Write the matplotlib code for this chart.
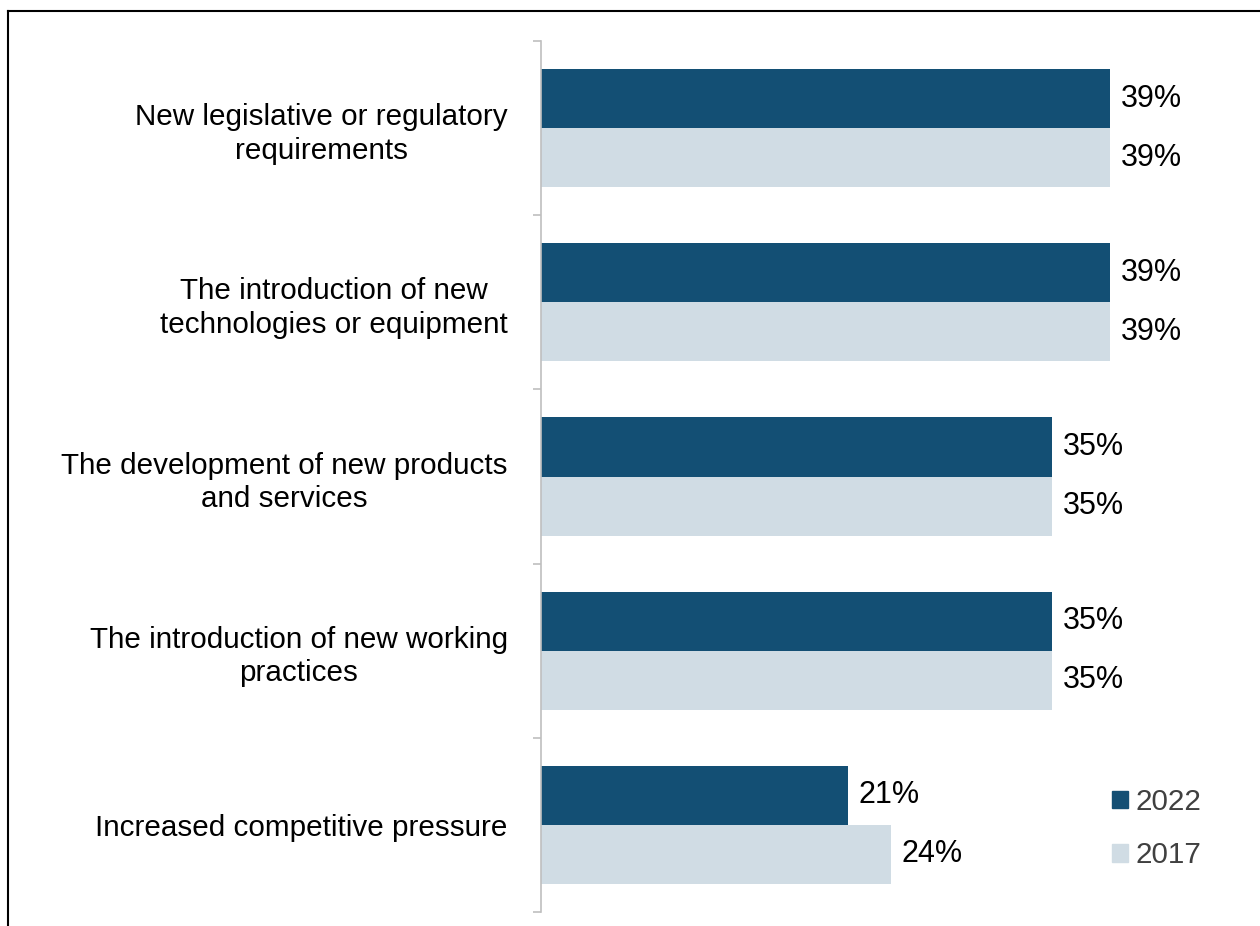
#!/usr/bin/env python3
import numpy as np
import matplotlib.pyplot as plt
from matplotlib.lines import Line2D
from matplotlib.patches import Patch
plt.switch_backend('agg')

categories = [
    'New legislative or regulatory\nrequirements',
    'The introduction of new\ntechnologies or equipment',
    'The development of new products\nand services',
    'The introduction of new working\npractices',
    'Increased competitive pressure',
]
vals_2022 = [39, 39, 35, 35, 21]
vals_2017 = [39, 39, 35, 35, 24]
years = ['2022', '2017']
colors = ['#134F74', '#D0DCE4']

plt.rcParams['font.family'] = ['Liberation Sans', 'DejaVu Sans']
FS = 21.3

fig = plt.figure(figsize=(12.6, 9.26), dpi=100)
ax = fig.add_axes([541 / 1260, 1 - 912 / 926, (1250 - 541) / 1260, (912 - 41) / 926])

y = np.arange(len(categories))
h = 59 / 174
b1 = ax.barh(y - h / 2, vals_2022, height=h, color=colors[0], label=years[0])
b2 = ax.barh(y + h / 2, vals_2017, height=h, color=colors[1], label=years[1])
for bars in (b1, b2):
    ax.bar_label(bars, labels=[f'{v}%' for v in bars.datavalues],
                 padding=7.5, fontsize=22, color='black')

ax.set_xlim(0, 709 / 14.6)
ax.set_ylim(len(categories) - 0.5, -0.5)

for s in ['top', 'right', 'bottom']:
    ax.spines[s].set_visible(False)
ax.spines['left'].set_color('#BFBFBF')
ax.spines['left'].set_linewidth(1.2)
ax.set_xticks([])

ax.set_yticks(y)
ax.set_yticklabels(categories, fontsize=FS, multialignment='center',
                   linespacing=1.25)
ax.tick_params(axis='y', which='major', length=0, pad=24)
ax.set_yticks(np.arange(len(categories) + 1) - 0.5, minor=True)
ax.tick_params(axis='y', which='minor', length=6, width=1.2, color='#BFBFBF')

handles = [Patch(color=colors[0], label=years[0]), Patch(color=colors[1], label=years[1])]
ax.legend(handles=handles, loc='center left', frameon=False, fontsize=FS,
          labelcolor='#404040', handlelength=0.55, handleheight=0.55,
          handletextpad=0.24, labelspacing=0.85, borderpad=0, borderaxespad=0,
          bbox_to_anchor=(1112 / 1260, 1 - 828.5 / 926),
          bbox_transform=fig.transFigure)

# outer frame: top and left only
fig.add_artist(Line2D([7.5 / 1260, 1], [1 - 10.5 / 926, 1 - 10.5 / 926],
                      transform=fig.transFigure, color='black', lw=1.5))
fig.add_artist(Line2D([7.5 / 1260, 7.5 / 1260], [0, 1 - 10.5 / 926],
                      transform=fig.transFigure, color='black', lw=1.5))

fig.savefig('out.png', dpi=100)
